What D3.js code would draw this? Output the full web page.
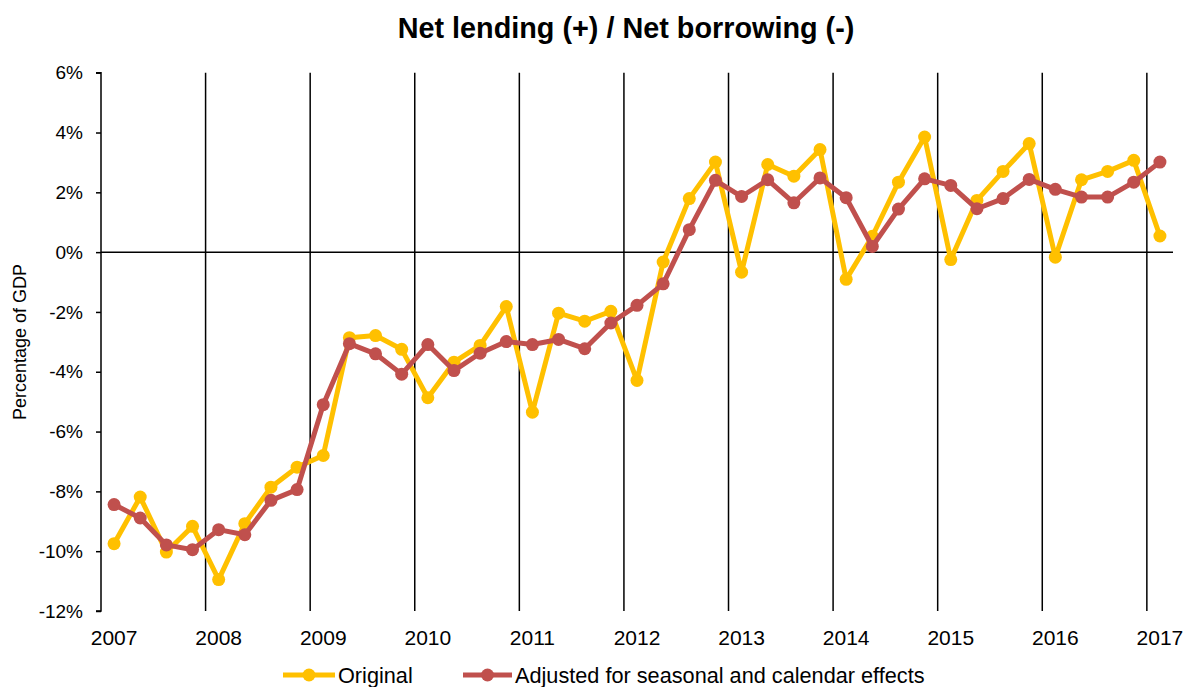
<!DOCTYPE html>
<html>
<head>
<meta charset="utf-8">
<script src="https://cdn.jsdelivr.net/npm/d3@7"></script>
<style>
  html, body { margin: 0; padding: 0; background: #fff; }
  svg { display: block; font-family: "Liberation Sans", Arial, sans-serif; }
</style>
</head>
<body>
<svg id="chart" width="1188" height="687"></svg>
<script>
// Quarterly observations, 2007Q1 .. 2017Q1
const quarters = [
  "2007Q1","2007Q2","2007Q3","2007Q4",
  "2008Q1","2008Q2","2008Q3","2008Q4",
  "2009Q1","2009Q2","2009Q3","2009Q4",
  "2010Q1","2010Q2","2010Q3","2010Q4",
  "2011Q1","2011Q2","2011Q3","2011Q4",
  "2012Q1","2012Q2","2012Q3","2012Q4",
  "2013Q1","2013Q2","2013Q3","2013Q4",
  "2014Q1","2014Q2","2014Q3","2014Q4",
  "2015Q1","2015Q2","2015Q3","2015Q4",
  "2016Q1","2016Q2","2016Q3","2016Q4",
  "2017Q1"
];

// Net lending / borrowing, % of GDP (unadjusted)
const original = [
  -9.75, -8.19, -10.03, -9.17,
  -10.95, -9.08, -7.86, -7.19,
  -6.80, -2.86, -2.79, -3.25,
  -4.87, -3.68, -3.12, -1.82,
  -5.35, -2.04, -2.31, -1.98,
  -4.29, -0.33, 1.79, 3.01,
  -0.67, 2.93, 2.54, 3.43,
  -0.91, 0.53, 2.34, 3.85,
  -0.25, 1.73, 2.70, 3.63,
  -0.17, 2.42, 2.70, 3.07,
  0.54
];

// Seasonally and calendar adjusted, % of GDP
const adjusted = [
  -8.44, -8.89, -9.79, -9.95,
  -9.28, -9.45, -8.30, -7.94,
  -5.10, -3.06, -3.40, -4.08,
  -3.09, -3.96, -3.38, -2.99,
  -3.09, -2.92, -3.23, -2.37,
  -1.78, -1.06, 0.75, 2.40,
  1.86, 2.42, 1.65, 2.48,
  1.82, 0.19, 1.44, 2.45,
  2.23, 1.45, 1.79, 2.43,
  2.10, 1.84, 1.84, 2.34,
  3.01
];

const years = ["2007","2008","2009","2010","2011","2012","2013","2014","2015","2016","2017"];
const yTicks = [-12, -10, -8, -6, -4, -2, 0, 2, 4, 6];

const seriesNames = ["Original", "Adjusted for seasonal and calendar effects"];
const seriesColors = ["#FFC000", "#C0504D"];

const svg = d3.select("#chart");

const plot = { left: 101, right: 1173, top: 72.7, bottom: 611 };

const x = d3.scaleBand().domain(quarters).range([plot.left, plot.right]).padding(0);
const cx = q => x(q) + x.bandwidth() / 2;
const y = d3.scaleLinear().domain([-12, 6]).range([plot.bottom, plot.top]);

// Title
svg.append("text")
  .attr("x", 626).attr("y", 37.5)
  .attr("text-anchor", "middle")
  .attr("font-size", 28.8).attr("font-weight", "bold")
  .attr("fill", "#000")
  .text("Net lending (+) / Net borrowing (-)");

// Vertical year separators
const boundaries = years.slice(1).map(yr => x(yr + "Q1"));
svg.append("g").selectAll("line").data(boundaries).join("line")
  .attr("x1", d => d).attr("x2", d => d)
  .attr("y1", plot.top).attr("y2", plot.bottom)
  .attr("stroke", "#000").attr("stroke-width", 1.5);

// Y axis
const yAxis = svg.append("g")
  .attr("transform", `translate(${plot.left},0)`)
  .call(d3.axisLeft(y).tickValues(yTicks).tickSize(5).tickPadding(13).tickFormat(d => d + "%"));
yAxis.select(".domain").attr("stroke", "#000").attr("stroke-width", 1.5).attr("d", `M-5,${y(6)}H0V${y(-12)}H-5`);
yAxis.selectAll(".tick line").attr("stroke", "#000").attr("stroke-width", 1.5);
yAxis.selectAll(".tick text").attr("font-size", 19).attr("fill", "#000")
  .attr("font-family", "'Liberation Sans', Arial, sans-serif");

// Zero line
svg.append("line")
  .attr("x1", plot.left).attr("x2", plot.right)
  .attr("y1", y(0)).attr("y2", y(0))
  .attr("stroke", "#000").attr("stroke-width", 1.5);

// Year labels under the first quarter of each year
svg.append("g").selectAll("text").data(years).join("text")
  .attr("x", d => cx(d + "Q1"))
  .attr("y", 645)
  .attr("text-anchor", "middle")
  .attr("font-size", 21).attr("fill", "#000")
  .text(d => d);

// Y axis title
svg.append("text")
  .attr("transform", "translate(26,342) rotate(-90)")
  .attr("text-anchor", "middle")
  .attr("font-size", 18).attr("fill", "#000")
  .text("Percentage of GDP");

// Series
const seriesData = [original, adjusted];
const line = d3.line().x((d, i) => cx(quarters[i])).y(d => y(d));

seriesData.forEach((vals, s) => {
  const g = svg.append("g");
  g.append("path").datum(vals)
    .attr("d", line)
    .attr("fill", "none")
    .attr("stroke", seriesColors[s])
    .attr("stroke-width", 5)
    .attr("stroke-linejoin", "round");
  g.selectAll("circle").data(vals).join("circle")
    .attr("cx", (d, i) => cx(quarters[i]))
    .attr("cy", d => y(d))
    .attr("r", 6.5)
    .attr("fill", seriesColors[s]);
});

// Legend
const legendItems = [
  { x0: 283, x1: 335, tx: 338 },
  { x0: 463, x1: 512, tx: 515 }
];
const lg = svg.append("g");
legendItems.forEach((it, s) => {
  lg.append("line")
    .attr("x1", it.x0).attr("x2", it.x1).attr("y1", 675).attr("y2", 675)
    .attr("stroke", seriesColors[s]).attr("stroke-width", 5);
  lg.append("circle")
    .attr("cx", (it.x0 + it.x1) / 2).attr("cy", 675).attr("r", 6.5)
    .attr("fill", seriesColors[s]);
  lg.append("text")
    .attr("x", it.tx).attr("y", 683)
    .attr("font-size", 21.7).attr("fill", "#000")
    .text(seriesNames[s]);
});
</script>
</body>
</html>
